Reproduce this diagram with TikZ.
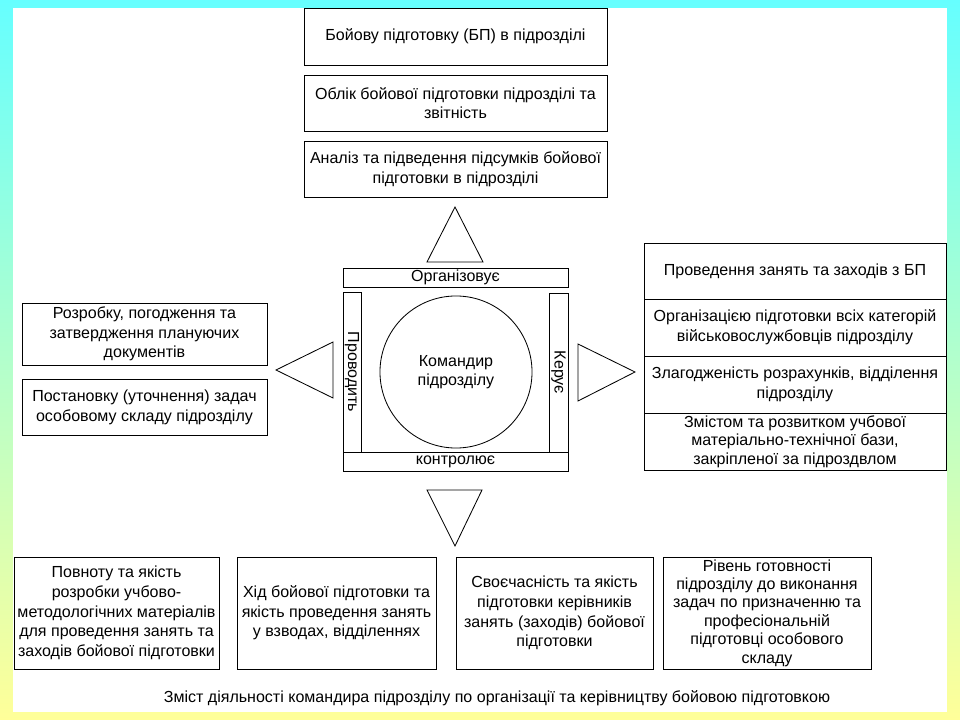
\documentclass[tikz,border=0pt]{standalone}
\usepackage{fontspec}
\setmainfont{Liberation Sans}
\usepackage{tikz}
\usetikzlibrary{positioning}
\definecolor{frametop}{RGB}{102,255,255}
\definecolor{framebot}{RGB}{255,255,153}

\begin{document}
\begin{tikzpicture}[
    x=0.025cm, y=-0.025cm,
    node distance=0.25cm,
    box/.style={draw, line width=0.6pt, outer sep=0pt, inner sep=2pt, align=center, font=\fontsize{11.4}{14}\selectfont},
    topbox/.style={box, minimum width=7.575cm, minimum height=1.4cm},
    sidebox/.style={box, minimum width=6.125cm},
    listbox/.style={box, minimum width=7.55cm, minimum height=1.4cm},
    lowbox/.style={box, minimum height=2.8cm},
    bar/.style={box, inner sep=0pt},
    tri/.style={draw, line width=0.6pt},
]
% frame
\shade[top color=frametop, bottom color=framebot] (0,0) rectangle (960,720);
\fill[white] (13,8) rectangle (947,712);
\useasboundingbox (0,0) rectangle (960,720);

% top column
\node[topbox, minimum height=1.425cm] (bp) at (455.5,36.5) {Бойову підготовку (БП) в підрозділі};
\node[topbox, below=of bp] (oblik) {Облік бойової підготовки підрозділі та\\звітність};
\node[topbox, below=of oblik] (analiz) {Аналіз та підведення підсумків бойової\\підготовки в підрозділі};

% centre: commander and his four functions
\node[draw, circle, line width=0.6pt, minimum size=3.8cm, align=center, font=\fontsize{11.4}{14}\selectfont] (komandyr) at (456,372) {Командир\\підрозділу};
\node[bar, minimum width=5.625cm, minimum height=0.475cm] (orh) at (455.5,277.5) {Організовує};
\node[bar, minimum width=5.625cm, minimum height=0.475cm] (kontr) at (455.5,461.5) {контролює};
\node[bar, rotate=-90, minimum width=4cm, minimum height=0.45cm] (prov) at (352,372) {Проводить};
\node[bar, rotate=-90, minimum width=3.975cm, minimum height=0.475cm] (ker) at (558.5,372.5) {Керує};

% pointers
\draw[tri] (427,262) -- (455,207) -- (483,262) -- cycle;
\draw[tri] (427,490) -- (455,546) -- (482,490) -- cycle;
\draw[tri] (333,342) -- (276,370) -- (333,398) -- cycle;
\draw[tri] (578,344) -- (635,372) -- (578,401) -- cycle;

% left column
\node[sidebox, minimum height=1.55cm] (plan) at (144.5,334) {Розробку, погодження та\\затвердження плануючих\\документів};
\node[sidebox, minimum height=1.4cm, below=0.35cm of plan] (zadachi) {Постановку (уточнення) задач\\особовому складу підрозділу};

% right column
\node[listbox] (zanyattya) at (795,271) {Проведення занять та заходів з БП};
\node[listbox, minimum height=1.425cm, below=0pt of zanyattya] (katehorii) {Організацією підготовки всіх категорій\\військовослужбовців підрозділу};
\node[listbox, minimum height=1.425cm, below=0pt of katehorii] (zlahod) {Злагодженість розрахунків, відділення\\підрозділу};
\node[listbox, below=0pt of zlahod, font=\fontsize{11.4}{13}\selectfont] (baza) {Змістом та розвитком учбової\\матеріально-технічної бази,\\закріпленої за підроздвлом};

% bottom row
\node[lowbox, minimum width=5.125cm] (povnotu) at (116.5,613) {Повноту та якість\\розробки учбово-\\методологічних матеріалів\\для проведення занять та\\заходів бойової підготовки};
\node[lowbox, minimum width=4.975cm] (khid) at (336.5,613) {Хід бойової підготовки та\\якість проведення занять\\у взводах, відділеннях};
\node[lowbox, minimum width=4.925cm] (svoech) at (554.5,613) {Своєчасність та якість\\підготовки керівників\\занять (заходів) бойової\\підготовки};
\node[lowbox, minimum width=5.2cm, inner sep=1pt, font=\fontsize{11.4}{13.1}\selectfont] (riven) at (767,613) {Рівень готовності\\підрозділу до виконання\\задач по призначенню та\\професіональній\\підготовці особового\\складу};

% caption
\node[font=\fontsize{11.4}{14}\selectfont] (zmist) at (497,698) {Зміст діяльності командира підрозділу по організації та керівництву бойовою підготовкою};
\end{tikzpicture}
\end{document}
